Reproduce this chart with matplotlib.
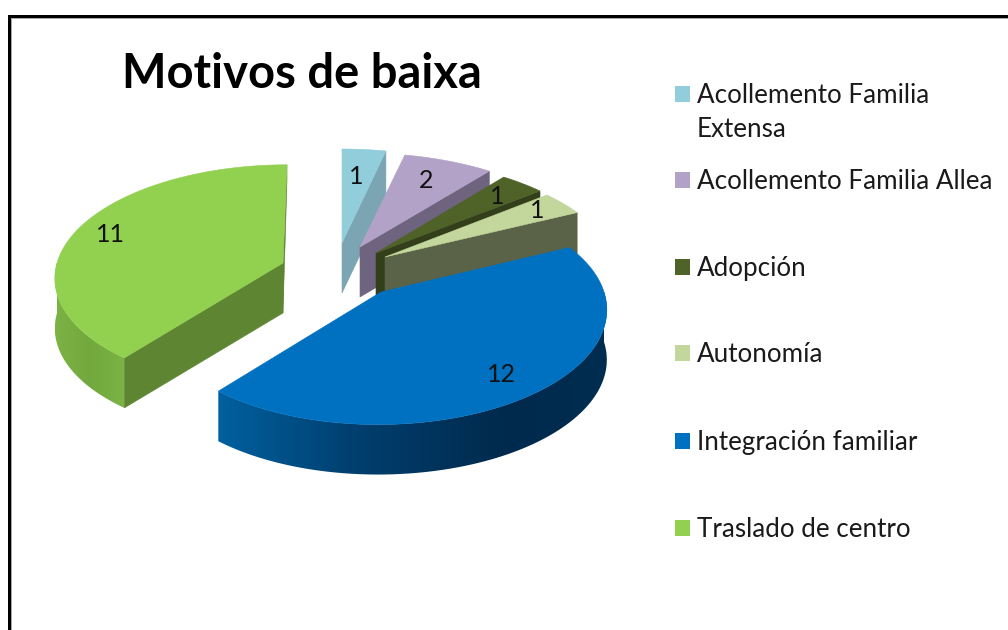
import numpy as np
import matplotlib
matplotlib.use('Agg')
import matplotlib.pyplot as plt
from matplotlib.colors import LinearSegmentedColormap
from matplotlib.patches import Polygon, Rectangle

title = 'Motivos de baixa'
categories = ['Acollemento Familia\nExtensa', 'Acollemento Familia Allea', 'Adopción',
              'Autonomía', 'Integración familiar', 'Traslado de centro']
values = [1, 2, 1, 1, 12, 11]

top_colors = ['#92CDDC', '#B3A2C7', '#4F6228', '#C3D69B', '#0070C0', '#92D050']
cut_colors = ['#7BA5B2', '#6F6480', '#333F1A', '#5A6347', None, '#5E8532']

# look of the exploded pie, in pixels
apex = [(342, 243), (360, 247), (376, 253), (385, 257), (381, 292), (283, 263)]
lean = [0, 0, 0, 0, 3, 4]      # these two slices tip a little to the right
rx = [230, 235, 232, 229, 223, 226]
persp = [0.17, 0.17, 0.17, 0.17, 0.17, 0.12]
RY = 110
DEPTH = 50
label_pos = [(356, 177), (426, 180), (497, 196), (537, 211), (501, 374), (110, 235)]
legend_y = [94, 180, 267, 353, 441, 528]

blue_wall = LinearSegmentedColormap.from_list(
    'b', [(0, '#00609F'), (0.34, '#004070'), (0.73, '#002A4D'), (1, '#002D50')])
green_wall = LinearSegmentedColormap.from_list('g', ['#7DB245', '#72A93E', '#7BB344'])


def rim(i, deg):
    a = np.radians(deg)
    u, v = np.sin(a), np.cos(a)
    w = 1 + persp[i] * v
    return apex[i][0] + rx[i] * u / w + lean[i] * v, apex[i][1] - RY * v / w


def arc(i, d0, d1):
    ds = np.linspace(d0, d1, max(int(abs(d1 - d0)) * 2, 2))
    x, y = rim(i, ds)
    return np.column_stack([x, y])


def outer_wall(ax, i, d0, d1, cmap, z):
    # outer skin of a slice: a left-to-right gradient clipped to its outline
    pts = arc(i, d0, d1)
    outline = np.vstack([pts, pts[::-1] + (0, DEPTH)])
    clip = Polygon(outline, transform=ax.transData, fc='none', ec='none')
    ax.add_patch(clip)
    im = ax.imshow(np.linspace(0, 1, 256)[None, :], cmap=cmap, aspect='auto', zorder=z,
                   extent=(outline[:, 0].min(), outline[:, 0].max(),
                           outline[:, 1].max(), outline[:, 1].min()))
    im.set_clip_path(clip)


fig = plt.figure(figsize=(10.08, 6.3), dpi=100)
ax = fig.add_axes([0, 0, 1, 1])

# frame of the pasted chart, cut by the right and bottom edge
ax.add_patch(Rectangle((8, 15), 1000, 3, color='black', lw=0))
ax.add_patch(Rectangle((8, 15), 3, 615, color='black', lw=0))
ax.add_patch(Rectangle((11, 18), 997, 1.2, color='#A6A6A6', lw=0))
ax.add_patch(Rectangle((11, 18), 1.2, 612, color='#A6A6A6', lw=0))

edges = np.cumsum([0] + values) / sum(values) * 360

for z, i in enumerate([0, 1, 2, 3, 5, 4], start=2):
    d0, d1 = edges[i], edges[i + 1]
    a = np.array(apex[i], float)
    if i == 4:
        outer_wall(ax, i, d1, 90, blue_wall, z)
    if i == 5:
        # the cut on the front, and the sliver of the one at the back
        outer_wall(ax, i, 270, d0, green_wall, z)
        c = np.array(rim(i, d0))
        ax.add_patch(Polygon([a, c, c + (0, DEPTH), a + (0, DEPTH)], color=cut_colors[i], lw=0.4, zorder=z))
        c = np.array(rim(i, d1))
        ax.add_patch(Polygon([a, c, c + (0, DEPTH * 0.3), a + (0, DEPTH)], color=cut_colors[i], lw=0.4, zorder=z))
    elif i < 4:
        c = np.array(rim(i, d1))
        ax.add_patch(Polygon([a, c, c + (0, DEPTH), a + (0, DEPTH)], color=cut_colors[i], lw=0.4, zorder=z))
    ax.add_patch(Polygon(np.vstack([a, arc(i, d0, d1)]), color=top_colors[i], lw=0.4, zorder=z))

for v, (x, y) in zip(values, label_pos):
    ax.text(x, y, str(v), ha='center', va='center', fontsize=18, family='Lato', color='#111111', zorder=20)

for name, col, y in zip(categories, top_colors, legend_y):
    ax.add_patch(Rectangle((675, y - 8), 15, 16, color=col, lw=0))
    ax.text(697, y - 11, name, ha='left', va='top', fontsize=18.7, family='Lato',
            color='#1a1a1a', linespacing=1.45)

ax.text(302, 74, title, ha='center', va='center', fontsize=33.9, family='Lato',
        fontweight='bold', color='black')

ax.set_xlim(0, 1008)
ax.set_ylim(630, 0)
ax.axis('off')

fig.savefig('out.png', dpi=100)
